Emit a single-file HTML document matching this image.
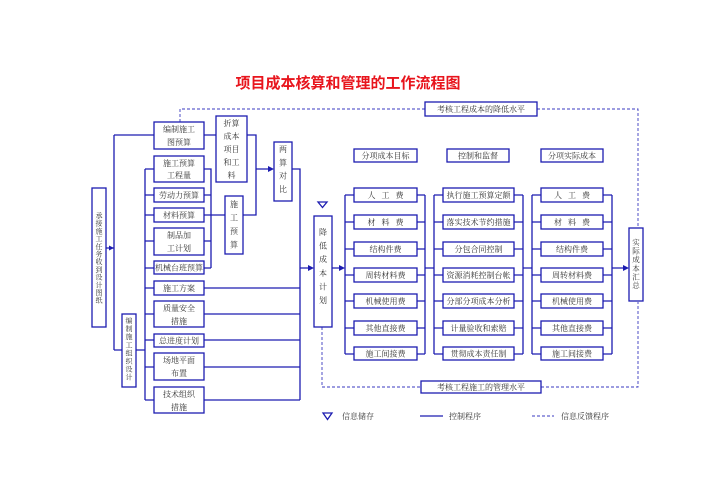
<!DOCTYPE html>
<html><head><meta charset="utf-8"><style>
html,body{margin:0;padding:0;background:#fff;}
svg{display:block;}
text{font-family:"Liberation Serif","Noto Serif CJK SC",serif;font-size:8px;fill:#333;text-anchor:middle;}
.t{font-family:"Liberation Sans","Noto Sans CJK SC",sans-serif;font-size:15px;font-weight:bold;fill:#e8151d;}
rect{fill:#fff;stroke:#1c1cb0;stroke-width:1.3;}
.l{stroke:#1c1cb0;stroke-width:1.3;fill:none;}
.d{stroke:#3a3ac0;stroke-width:0.9;fill:none;stroke-dasharray:3,2;}
.a{fill:#1c1cb0;stroke:none;}
</style></head><body>
<svg width="713" height="504" viewBox="0 0 713 504" xmlns="http://www.w3.org/2000/svg">
<text class="t" x="348" y="88">项目成本核算和管理的工作流程图</text>

<path class="d" d="M180 122 V109 H425 M537 109 H638 V228"/>
<path class="d" d="M322 327 V387 H421 M541 387 H638 V302"/>

<path class="l" d="M106 248 H114 M114 135 V350 M114 135 H154 M114 350 H122"/>
<path class="l" d="M145 169 V400 M136 350 H145"/>
<path class="l" d="M145 169 H154 M145 195 H154 M145 215 H154 M145 241 H154 M145 268 H154 M145 288 H154 M145 314 H154 M145 340 H154 M145 367 H154 M145 400 H154"/>
<path class="l" d="M204 169 H211 V268 M204 195 H211 M204 241 H211 M204 268 H211 M204 215 H225"/>
<path class="l" d="M204 135 H216 M247 135 H256 V215 H243 M256 169 H270"/>
<path class="l" d="M292 169 H300 V400 M204 288 H300 M204 314 H300 M204 340 H300 M204 367 H300 M204 400 H300 M300 268 H311"/>
<polygon class="a" points="114,248 109,245.5 109,250.5"/>
<polygon class="a" points="274,169 268,166 268,172"/>
<polygon class="a" points="314,268 308,265 308,271"/>

<path class="l" d="M332 268 H342 M345 195 V354 M425 195 V354 M425 268 H434 M434 195 V354 M523 195 V354 M523 268 H532 M532 195 V354 M612 195 V354 M612 268 H625"/>
<path class="l" d="M345 195 H354 M345 222 H354 M345 249 H354 M345 275 H354 M345 301 H354 M345 328 H354 M345 354 H354
M417 195 H425 M417 222 H425 M417 249 H425 M417 275 H425 M417 301 H425 M417 328 H425 M417 354 H425
M434 195 H443 M434 222 H443 M434 249 H443 M434 275 H443 M434 301 H443 M434 328 H443 M434 354 H443
M514 195 H523 M514 222 H523 M514 249 H523 M514 275 H523 M514 301 H523 M514 328 H523 M514 354 H523
M532 195 H541 M532 222 H541 M532 249 H541 M532 275 H541 M532 301 H541 M532 328 H541 M532 354 H541
M603 195 H612 M603 222 H612 M603 249 H612 M603 275 H612 M603 301 H612 M603 328 H612 M603 354 H612"/>
<polygon class="a" points="345,268 339,265 339,271"/>
<polygon class="a" points="629,268 623,265 623,271"/>

<polygon points="318,202 327,202 322.5,207.5" fill="#fff" stroke="#1c1cb0" stroke-width="1.3"/>

<rect x="92" y="188" width="14" height="139"/>
<text style="font-size:7px"><tspan x="99" y="218">承</tspan><tspan x="99" dy="7.7">接</tspan><tspan x="99" dy="7.7">施</tspan><tspan x="99" dy="7.7">工</tspan><tspan x="99" dy="7.7">任</tspan><tspan x="99" dy="7.7">务</tspan><tspan x="99" dy="7.7">收</tspan><tspan x="99" dy="7.7">到</tspan><tspan x="99" dy="7.7">设</tspan><tspan x="99" dy="7.7">计</tspan><tspan x="99" dy="7.7">图</tspan><tspan x="99" dy="7.7">纸</tspan></text>

<rect x="122" y="314" width="14" height="73"/>
<text style="font-size:7px"><tspan x="129" y="323">编</tspan><tspan x="129" dy="8.1">制</tspan><tspan x="129" dy="8.1">施</tspan><tspan x="129" dy="8.1">工</tspan><tspan x="129" dy="8.1">组</tspan><tspan x="129" dy="8.1">织</tspan><tspan x="129" dy="8.1">设</tspan><tspan x="129" dy="8.1">计</tspan></text>

<rect x="154" y="122" width="50" height="27"/><text x="179" y="132">编制施工</text><text x="179" y="145">图预算</text>
<rect x="216" y="116" width="31" height="66"/>
<text><tspan x="231.5" y="126">折算</tspan><tspan x="231.5" dy="13">成本</tspan><tspan x="231.5" dy="13">项目</tspan><tspan x="231.5" dy="13">和工</tspan><tspan x="231.5" dy="13">料</tspan></text>
<rect x="154" y="156" width="50" height="26"/><text x="179" y="166">施工预算</text><text x="179" y="178">工程量</text>
<rect x="154" y="188" width="50" height="14"/><text x="179" y="198">劳动力预算</text>
<rect x="154" y="208" width="50" height="14"/><text x="179" y="218">材料预算</text>
<rect x="154" y="228" width="50" height="27"/><text x="179" y="238">制品加</text><text x="179" y="251">工计划</text>
<rect x="154" y="261" width="50" height="13"/><text x="179" y="270.5">机械台班预算</text>
<rect x="154" y="281" width="50" height="14"/><text x="179" y="291">施工方案</text>
<rect x="154" y="301" width="50" height="26"/><text x="179" y="311">质量安全</text><text x="179" y="324">措施</text>
<rect x="154" y="334" width="50" height="13"/><text x="179" y="343.5">总进度计划</text>
<rect x="154" y="353" width="50" height="27"/><text x="179" y="363">场地平面</text><text x="179" y="376">布置</text>
<rect x="154" y="387" width="50" height="26"/><text x="179" y="397">技术组织</text><text x="179" y="410">措施</text>

<rect x="225" y="196" width="18" height="58"/>
<text><tspan x="234" y="207">施</tspan><tspan x="234" dy="13.5">工</tspan><tspan x="234" dy="13.5">预</tspan><tspan x="234" dy="13.5">算</tspan></text>
<rect x="274" y="142" width="18" height="59"/>
<text><tspan x="283" y="152">两</tspan><tspan x="283" dy="13.3">算</tspan><tspan x="283" dy="13.3">对</tspan><tspan x="283" dy="13.3">比</tspan></text>

<rect x="314" y="216" width="18" height="111"/>
<text><tspan x="323" y="235">降</tspan><tspan x="323" dy="13.6">低</tspan><tspan x="323" dy="13.6">成</tspan><tspan x="323" dy="13.6">本</tspan><tspan x="323" dy="13.6">计</tspan><tspan x="323" dy="13.6">划</tspan></text>

<rect x="629" y="228" width="14" height="73"/>
<text style="font-size:7.5px"><tspan x="636" y="245">实</tspan><tspan x="636" dy="8.6">际</tspan><tspan x="636" dy="8.6">成</tspan><tspan x="636" dy="8.6">本</tspan><tspan x="636" dy="8.6">汇</tspan><tspan x="636" dy="8.6">总</tspan></text>

<rect x="425" y="102" width="112" height="14"/><text x="481" y="112">考核工程成本的降低水平</text>
<rect x="421" y="381" width="120" height="12"/><text x="481" y="390">考核工程施工的管理水平</text>

<rect x="354" y="149" width="63" height="13"/><text x="385.5" y="158.5">分项成本目标</text>
<rect x="447" y="149" width="62" height="13"/><text x="478" y="158.5">控制和监督</text>
<rect x="541" y="149" width="62" height="13"/><text x="572" y="158.5">分项实际成本</text>

<rect x="354" y="188" width="63" height="14"/><text x="385.5" y="198" xml:space="preserve">人   工   费</text>
<rect x="354" y="215" width="63" height="14"/><text x="385.5" y="225" xml:space="preserve">材   料   费</text>
<rect x="354" y="242" width="63" height="14"/><text x="385.5" y="252">结构件费</text>
<rect x="354" y="268" width="63" height="14"/><text x="385.5" y="278">周转材料费</text>
<rect x="354" y="294" width="63" height="14"/><text x="385.5" y="304">机械使用费</text>
<rect x="354" y="321" width="63" height="14"/><text x="385.5" y="331">其他直接费</text>
<rect x="354" y="347" width="63" height="13"/><text x="385.5" y="356.5">施工间接费</text>
<rect x="443" y="188" width="71" height="14"/><text x="478.5" y="198">执行施工预算定额</text>
<rect x="443" y="215" width="71" height="14"/><text x="478.5" y="225">落实技术节约措施</text>
<rect x="443" y="242" width="71" height="14"/><text x="478.5" y="252">分包合同控制</text>
<rect x="443" y="268" width="71" height="14"/><text x="478.5" y="278">资源消耗控制台帐</text>
<rect x="443" y="294" width="71" height="14"/><text x="478.5" y="304">分部分项成本分析</text>
<rect x="443" y="321" width="71" height="14"/><text x="478.5" y="331">计量验收和索赔</text>
<rect x="443" y="347" width="71" height="13"/><text x="478.5" y="356.5">贯彻成本责任制</text>
<rect x="541" y="188" width="62" height="14"/><text x="572" y="198" xml:space="preserve">人   工   费</text>
<rect x="541" y="215" width="62" height="14"/><text x="572" y="225" xml:space="preserve">材   料   费</text>
<rect x="541" y="242" width="62" height="14"/><text x="572" y="252">结构件费</text>
<rect x="541" y="268" width="62" height="14"/><text x="572" y="278">周转材料费</text>
<rect x="541" y="294" width="62" height="14"/><text x="572" y="304">机械使用费</text>
<rect x="541" y="321" width="62" height="14"/><text x="572" y="331">其他直接费</text>
<rect x="541" y="347" width="62" height="13"/><text x="572" y="356.5">施工间接费</text>

<polygon points="323,413 332,413 327.5,419.5" fill="#fff" stroke="#1c1cb0" stroke-width="1.3"/>
<text x="358" y="419">信息储存</text>
<path class="l" d="M420 416 H443"/>
<text x="465" y="419">控制程序</text>
<path class="d" d="M532 416 H554"/>
<text x="585" y="419">信息反馈程序</text>
</svg>
</body></html>
